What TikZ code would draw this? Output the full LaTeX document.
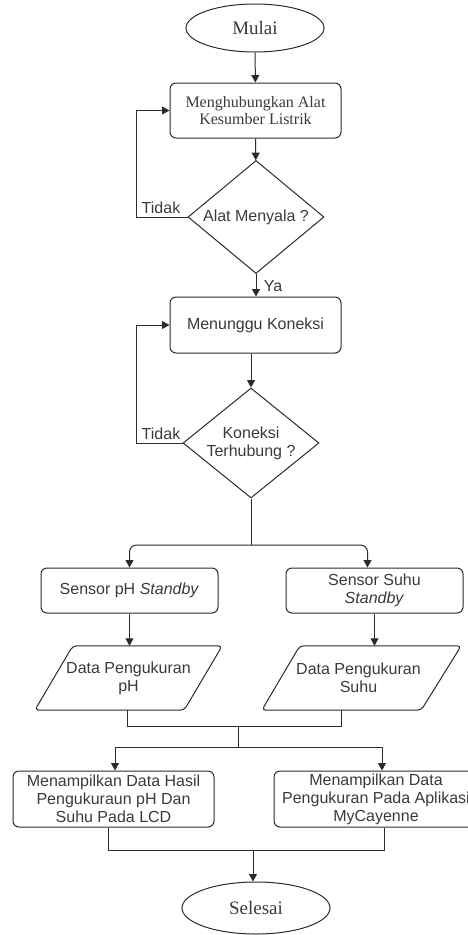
\documentclass[tikz,border=0pt]{standalone}
\usepackage{fontspec}
\setmainfont{Liberation Serif}
\setsansfont{Liberation Sans}
\usetikzlibrary{shapes.geometric,arrows.meta,calc}
\definecolor{ln}{HTML}{2B2B2B}
\definecolor{tx}{HTML}{3A3A3A}
\begin{document}
\begin{tikzpicture}[x=1pt,y=-1pt,
  line/.style={draw=ln,line width=1pt},
  arr/.style={line,-{Triangle[length=7.5pt,width=8pt]}},
  sans/.style={font=\sffamily\fontsize{16}{18}\selectfont,text=tx},
  term/.style={ellipse,line,minimum width=138pt,minimum height=48pt,inner sep=0pt,font=\rmfamily\fontsize{19}{21}\selectfont,text=tx},
  procbox/.style={rectangle,rounded corners=6pt,line,align=center,inner sep=0pt},
  decision/.style={diamond,line,align=center,inner sep=0pt,shape aspect=1.2,sans},
  lbl/.style={sans,inner sep=0pt}
]
\useasboundingbox (0,0) rectangle (468,935);
\clip (0,0) rectangle (468,935);

% nodes
\node[term] (start) at (255,28) {Mulai};
\node[procbox,minimum width=171pt,minimum height=55pt,font=\rmfamily\fontsize{16}{17}\selectfont,text=tx] (b1) at (255.5,110.5) {Menghubungkan Alat\\Kesumber Listrik};
\node[decision,minimum width=136pt,minimum height=113pt] (d1) at (256,217) {Alat Menyala ?};
\node[procbox,sans,minimum width=171pt,minimum height=56pt] (b2) at (255.5,325) {Menunggu Koneksi};
\node[decision,minimum width=136pt,minimum height=110pt] (d2) at (251,443) {Koneksi\\Terhubung ?};

\node[procbox,sans,minimum width=177pt,minimum height=45pt] (s1) at (129.5,590.5) {Sensor pH \textit{Standby}};
\node[procbox,sans,minimum width=177pt,minimum height=45pt] (s2) at (374.5,590.5) {Sensor Suhu\\\textit{Standby}};

% parallelogram text nodes (outline drawn below)
\node[sans,align=center,minimum width=187pt,minimum height=64pt,inner sep=0pt] (p1) at (128.5,678) {Data Pengukuran\\pH};
\node[sans,align=center,minimum width=199pt,minimum height=64pt,inner sep=0pt] (p2) at (361.5,678) {\hspace*{-6pt}Data Pengukuran\\\hspace*{-6pt}Suhu};
\draw[line,rounded corners=4pt] ($(p1.north west)+(38,0)$) -- (p1.north east) -- ($(p1.south east)+(-38,0)$) -- (p1.south west) -- cycle;
\draw[line,rounded corners=4pt] ($(p2.north west)+(38,0)$) -- (p2.north east) -- ($(p2.south east)+(-40,0)$) -- (p2.south west) -- cycle;

\node[procbox,sans,minimum width=201pt,minimum height=56pt] (o1) at (113.5,799) {Menampilkan Data Hasil\\Pengukuraun pH Dan\\Suhu Pada LCD};
\node[procbox,sans,minimum width=204pt,minimum height=56pt] (o2) at (376,799) {Menampilkan Data\\Pengukuran Pada Aplikasi\\MyCayenne};

\node[term,minimum width=148pt,minimum height=52pt] (end) at (256,908) {Selesai};

% labels
\node[lbl] (t1) at (161,208) {Tidak};
\node[lbl] (ya) at (273,286) {Ya};
\node[lbl] (t2) at (161,434) {Tidak};

% helper coordinates
\coordinate (l1) at (136,217);
\coordinate (l2) at (136,443);
\coordinate (sp) at (251,545);
\coordinate (m1) at (238,726);
\coordinate (m2) at (238,747);
\coordinate (m3) at (253,850);

% connectors
\draw[arr] (start) -- (b1);
\draw[arr] (b1) -- (d1);
\draw[arr] (d1.west) -- (l1) |- (b1.west);
\draw[arr] (d1.south) -- (b2.north -| d1.south);
\draw[arr] (b2.south -| d2.north) -- (d2.north);
\draw[arr] (d2.west) -- (l2) |- (b2.west);
\draw[line] (d2.south) -- (sp);
\draw[arr,rounded corners=7pt] (sp) -| (s1.north);
\draw[arr,rounded corners=7pt] (sp) -| ($(s2.north)+(-7,0)$);
\draw[arr] (s1.south) -- (s1.south |- p1.north);
\draw[arr] (s2.south) -- (s2.south |- p2.north);
\draw[line] ($(p1.south)+(-1.5,0)$) |- (m1);
\draw[line] ($(p2.south)+(-20.5,0)$) |- (m1);
\draw[line] (m1) -- (m2);
\draw[arr] (m2) -| ($(o1.north)+(1.5,0)$);
\draw[arr] (m2) -| ($(o2.north)+(6,0)$);
\draw[line] ($(o1.south)+(-5.5,0)$) |- (m3);
\draw[line] ($(o2.south)+(8,0)$) |- (m3);
\draw[arr] (m3) -- (m3 |- end.north);
\end{tikzpicture}
\end{document}
